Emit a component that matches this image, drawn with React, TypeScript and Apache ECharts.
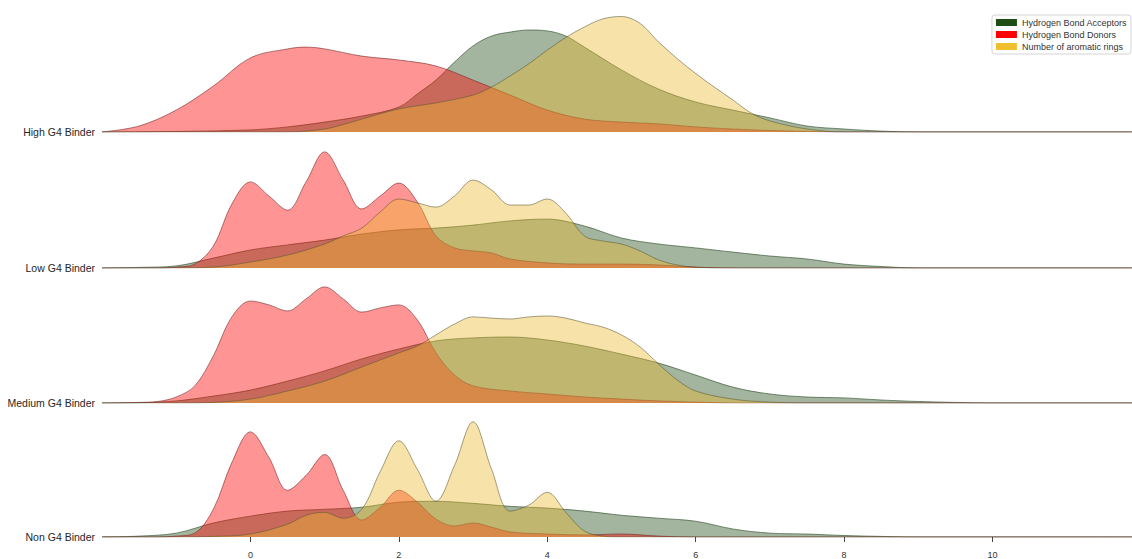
import React, { useEffect, useRef } from "react";
import * as echarts from "echarts";

type Curve = [number, number][];

// Kernel density estimates of three molecular descriptors for each binder class.
const groups = ["High G4 Binder", "Low G4 Binder", "Medium G4 Binder", "Non G4 Binder"];
const features = ["Hydrogen Bond Acceptors", "Hydrogen Bond Donors", "Number of aromatic rings"];
const xTicks = [0, 2, 4, 6, 8, 10];

const highAcceptors: Curve = [[-1, 0.002], [0, 0.007], [0.5, 0.017], [1, 0.033], [1.5, 0.053], [2, 0.083], [2.25, 0.127], [2.5, 0.173], [2.75, 0.233], [3, 0.287], [3.25, 0.32], [3.5, 0.333], [3.75, 0.34], [4, 0.337], [4.25, 0.32], [4.5, 0.283], [5, 0.207], [5.5, 0.143], [6, 0.1], [6.5, 0.073], [7, 0.047], [7.5, 0.02], [8, 0.01], [8.5, 0.003], [9, 0]];
const highDonors: Curve = [[-1.5, 0.02], [-1, 0.073], [-0.5, 0.153], [0, 0.247], [0.5, 0.277], [0.75, 0.283], [1, 0.277], [1.5, 0.253], [2, 0.24], [2.5, 0.22], [3, 0.173], [3.5, 0.123], [4, 0.073], [4.5, 0.043], [5, 0.033], [5.5, 0.027], [6, 0.017], [6.5, 0.01], [7, 0.005], [7.5, 0.002], [8, 0]];
const highAromatic: Curve = [[0.5, 0], [1, 0.01], [1.25, 0.025], [1.5, 0.043], [2, 0.077], [2.5, 0.097], [3, 0.123], [3.25, 0.15], [3.5, 0.187], [3.75, 0.227], [4, 0.273], [4.25, 0.315], [4.5, 0.35], [4.75, 0.377], [5, 0.385], [5.25, 0.362], [5.5, 0.3], [5.75, 0.245], [6, 0.195], [6.25, 0.15], [6.5, 0.107], [6.75, 0.063], [7, 0.037], [7.5, 0.01], [8, 0]];

const lowAcceptors: Curve = [[-1.5, 0.002], [-1, 0.007], [-0.5, 0.033], [0, 0.06], [0.5, 0.077], [1, 0.093], [1.5, 0.113], [2, 0.127], [2.5, 0.133], [3, 0.143], [3.5, 0.157], [4, 0.163], [4.5, 0.14], [5, 0.1], [5.5, 0.08], [6, 0.067], [6.5, 0.053], [7, 0.04], [7.5, 0.03], [8, 0.013], [8.5, 0.005], [9, 0]];
const lowDonors: Curve = [[-1.25, 0], [-1, 0.003], [-0.75, 0.013], [-0.5, 0.073], [-0.25, 0.213], [0, 0.287], [0.25, 0.24], [0.5, 0.193], [0.75, 0.287], [1, 0.387], [1.25, 0.293], [1.5, 0.197], [1.75, 0.24], [2, 0.283], [2.25, 0.22], [2.5, 0.107], [2.75, 0.067], [3, 0.057], [3.25, 0.05], [3.5, 0.03], [4, 0.017], [4.5, 0.013], [5, 0.013], [5.5, 0.01], [6, 0.003], [6.5, 0]];
const lowAromatic: Curve = [[-1, 0], [-0.5, 0.003], [0, 0.02], [0.5, 0.043], [1, 0.08], [1.25, 0.107], [1.5, 0.133], [1.75, 0.187], [2, 0.23], [2.25, 0.217], [2.5, 0.203], [2.75, 0.24], [3, 0.293], [3.25, 0.26], [3.5, 0.21], [3.75, 0.21], [4, 0.23], [4.25, 0.183], [4.5, 0.107], [4.75, 0.09], [5, 0.08], [5.25, 0.057], [5.5, 0.027], [5.75, 0.01], [6, 0.002], [6.5, 0]];

const mediumAcceptors: Curve = [[-1.5, 0.001], [-1, 0.007], [-0.5, 0.023], [0, 0.043], [0.5, 0.073], [1, 0.107], [1.5, 0.147], [2, 0.18], [2.5, 0.207], [3, 0.217], [3.5, 0.22], [4, 0.21], [4.5, 0.19], [5, 0.163], [5.5, 0.133], [6, 0.093], [6.5, 0.053], [7, 0.03], [7.5, 0.02], [8, 0.017], [8.5, 0.01], [9, 0.005], [9.5, 0.002], [10, 0]];
const mediumDonors: Curve = [[-1.5, 0.002], [-1.25, 0.005], [-1, 0.02], [-0.75, 0.057], [-0.5, 0.157], [-0.25, 0.287], [0, 0.34], [0.25, 0.327], [0.5, 0.307], [0.75, 0.347], [1, 0.387], [1.25, 0.347], [1.5, 0.303], [1.75, 0.317], [2, 0.327], [2.25, 0.277], [2.5, 0.167], [2.75, 0.093], [3, 0.057], [3.5, 0.04], [4, 0.03], [4.5, 0.02], [5, 0.013], [5.5, 0.007], [6, 0.003], [6.5, 0]];
const mediumAromatic: Curve = [[-1, 0], [-0.5, 0.002], [0, 0.013], [0.5, 0.04], [1, 0.073], [1.5, 0.12], [2, 0.167], [2.25, 0.19], [2.5, 0.227], [2.75, 0.263], [3, 0.287], [3.25, 0.283], [3.5, 0.28], [3.75, 0.287], [4, 0.29], [4.25, 0.283], [4.5, 0.267], [4.75, 0.253], [5, 0.227], [5.25, 0.187], [5.5, 0.13], [5.75, 0.077], [6, 0.04], [6.5, 0.013], [7, 0.003], [7.5, 0]];

const nonAcceptors: Curve = [[-1.5, 0.003], [-1, 0.013], [-0.5, 0.047], [0, 0.07], [0.5, 0.087], [1, 0.093], [1.5, 0.1], [2, 0.117], [2.5, 0.12], [3, 0.113], [3.5, 0.103], [4, 0.097], [4.5, 0.087], [5, 0.073], [5.5, 0.063], [6, 0.053], [6.5, 0.027], [7, 0.013], [7.5, 0.01], [8, 0.005], [8.5, 0.002], [9, 0]];
const nonDonors: Curve = [[-1.25, 0], [-1, 0.003], [-0.75, 0.013], [-0.5, 0.093], [-0.25, 0.25], [0, 0.353], [0.25, 0.267], [0.5, 0.157], [0.75, 0.207], [1, 0.277], [1.25, 0.157], [1.5, 0.057], [1.75, 0.1], [2, 0.157], [2.25, 0.117], [2.5, 0.06], [2.75, 0.037], [3, 0.047], [3.25, 0.033], [3.5, 0.017], [4, 0.01], [4.5, 0.007], [5, 0.01], [5.5, 0.003], [6, 0]];
const nonAromatic: Curve = [[-1, 0], [-0.5, 0.002], [0, 0.01], [0.5, 0.043], [0.75, 0.073], [1, 0.083], [1.25, 0.063], [1.5, 0.093], [1.75, 0.22], [2, 0.323], [2.25, 0.227], [2.5, 0.12], [2.75, 0.24], [3, 0.387], [3.25, 0.227], [3.5, 0.087], [3.75, 0.107], [4, 0.15], [4.25, 0.083], [4.5, 0.02], [4.75, 0.003], [5, 0]];

const curves: Curve[][] = [
  [highAcceptors, highDonors, highAromatic],
  [lowAcceptors, lowDonors, lowAromatic],
  [mediumAcceptors, mediumDonors, mediumAromatic],
  [nonAcceptors, nonDonors, nonAromatic],
];

const X_MIN = -2;
const X_MAX = 11.88;
const Y_MAX = 0.44;

const fillColors = ["#19460f", "#ff0000", "#ebb92a"];
const legendColors = ["#1e4d14", "#ff0000", "#efbf2c"];
const fillOpacity = [0.4, 0.42, 0.4];
const edgeColors = ["rgba(40,70,35,0.6)", "rgba(120,40,40,0.6)", "rgba(90,85,50,0.55)"];

const FONT = "'Liberation Sans', Arial, Helvetica, sans-serif";

// Pin every curve to the full x extent so each ridge has a baseline edge.
function padded(c: Curve): Curve {
  const out: Curve = [];
  if (c[0][0] > X_MIN) out.push([X_MIN, 0]);
  out.push(...c);
  if (c[c.length - 1][0] < X_MAX) out.push([X_MAX, 0]);
  return out;
}

export default function App() {
  const ref = useRef<HTMLDivElement>(null);

  useEffect(() => {
    if (!ref.current) return;
    const chart = echarts.init(ref.current, undefined, { renderer: "svg" });

    const baselines = [132, 268, 403, 538];
    const H = 132;

    const grid = baselines.map((b) => ({ left: 102, right: 0, top: b - H, height: H }));

    const xAxis = groups.map((_, i) => ({
      type: "value",
      gridIndex: i,
      min: X_MIN,
      max: X_MAX,
      show: i === groups.length - 1,
      offset: 5,
      axisLine: { show: false },
      splitLine: { show: false },
      axisTick: { show: true, length: 5, customValues: xTicks, lineStyle: { color: "#444", width: 1 } },
      axisLabel: { customValues: xTicks, fontSize: 9, color: "#333", margin: 8, fontFamily: FONT },
    }));

    const yAxis = groups.map((g, i) => ({
      type: "value",
      gridIndex: i,
      min: 0,
      max: Y_MAX,
      splitLine: { show: false },
      axisLine: { show: false },
      axisTick: { show: false },
      axisLabel: {
        customValues: [0],
        formatter: () => g,
        fontSize: 10.5,
        color: "#262626",
        margin: 7,
        fontFamily: FONT,
      },
    }));

    const series: any[] = [];
    curves.forEach((row, i) => {
      row.forEach((c, k) => {
        series.push({
          type: "line",
          name: features[k],
          xAxisIndex: i,
          yAxisIndex: i,
          data: padded(c),
          smooth: 0.35,
          symbol: "none",
          itemStyle: { color: legendColors[k] },
          lineStyle: { color: edgeColors[k], width: 1 },
          areaStyle: { color: fillColors[k], opacity: fillOpacity[k] },
          emphasis: { disabled: true },
          z: 2 + k,
        });
      });
    });

    chart.setOption({
      animation: false,
      backgroundColor: "#ffffff",
      textStyle: { fontFamily: FONT },
      grid,
      xAxis,
      yAxis,
      legend: {
        orient: "vertical",
        right: 1,
        top: 15,
        icon: "rect",
        itemWidth: 21,
        itemHeight: 7,
        itemGap: 3,
        padding: [3, 4, 3, 4],
        borderColor: "#d4d4d4",
        borderWidth: 1,
        borderRadius: 3,
        backgroundColor: "rgba(255,255,255,0.85)",
        textStyle: { fontSize: 9, color: "#333", fontFamily: FONT },
        data: features.map((f, k) => ({ name: f, itemStyle: { color: legendColors[k], opacity: 1 } })),
      },
      series,
    });

    return () => chart.dispose();
  }, []);

  return (
    <div
      ref={ref}
      style={{ position: "fixed", left: 0, top: 0, width: 1132, height: 559, background: "#fff" }}
    />
  );
}
